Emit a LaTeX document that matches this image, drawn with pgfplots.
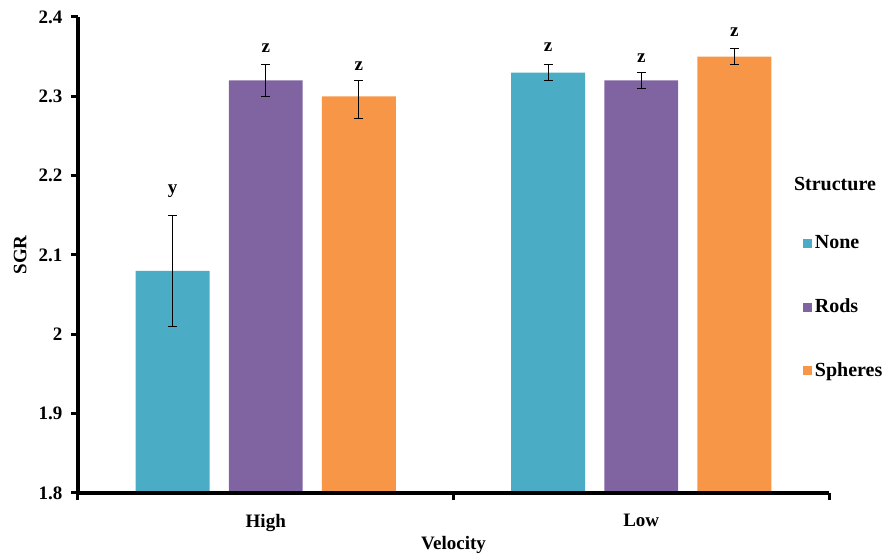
\documentclass[border=0pt]{standalone}
\usepackage{fontspec}
\setmainfont{Liberation Serif}
\usepackage{pgfplots}
\pgfplotsset{compat=1.18}
\definecolor{cNone}{HTML}{4BACC6}
\definecolor{cRods}{HTML}{8064A2}
\definecolor{cSph}{HTML}{F79646}
\begin{document}
\fontsize{19}{22}\selectfont\bfseries
\begin{tikzpicture}
\begin{axis}[
  scale only axis, width=751pt, height=476pt,
  xmin=0, xmax=2, ymin=1.8, ymax=2.4,
  ytick={1.8,1.9,2.0,2.1,2.2,2.3,2.4},
  yticklabels={1.8,1.9,2,2.1,2.2,2.3,2.4},
  minor ytick={1.8,1.9,2.0,2.1,2.2,2.3,2.4},
  xtick={0.5,1.5}, xticklabels={High,Low},
  minor xtick={0,1,2},
  axis on top,
  axis x line*=bottom, axis y line*=left,
  x axis line style={-, line width=4pt, black},
  y axis line style={-, line width=4pt, black},
  tick align=outside,
  major tick length=7pt, minor tick length=7pt,
  every tick/.append style={line width=3pt, black},
  major x tick style={draw=none},
  major y tick style={draw=none},
  minor x tick style={line width=3pt, black},
  minor y tick style={line width=3pt, black},
  /pgf/number format/assume math mode=true,
  ticklabel style={font=\fontsize{19}{22}\selectfont\bfseries},
  yticklabel style={xshift=-2pt},
  xticklabel style={yshift=-8pt},
  ylabel={SGR}, xlabel={Velocity},
  ylabel style={at={(axis description cs:-0.077,0.5)}, anchor=center},
  xlabel style={at={(axis description cs:0.5,0)}, yshift=-52pt, anchor=center},
  ybar, bar width=0.197,
  legend image code/.code={\fill[#1,draw=none] (0pt,-4.5pt) rectangle (9pt,4.5pt);},
  legend style={at={(axis description cs:0.965,0.545)}, anchor=north west, draw=none, fill=none,
    row sep=43pt, inner sep=0pt, font=\fontsize{20}{23}\selectfont\bfseries,
    nodes={inner sep=2pt, inner xsep=3pt}},
  legend cell align=left,
  error bars/y dir=both, error bars/y explicit,
  error bars/error bar style={line width=1pt, black},
  error bars/error mark options={rotate=90, mark size=4.5pt, line width=1pt, black},
]
\addplot[fill=cNone, draw=none, bar shift=-0.248] coordinates {
  (0.5,2.08) +- (0,0.07)
  (1.5,2.33) +- (0,0.01)
};
\addplot[fill=cRods, draw=none, bar shift=0] coordinates {
  (0.5,2.32) +- (0,0.02)
  (1.5,2.32) +- (0,0.01)
};
\addplot[fill=cSph, draw=none, bar shift=0.248] coordinates {
  (0.5,2.30) += (0,0.02) -= (0,0.028)
  (1.5,2.35) +- (0,0.01)
};
\legend{None,Rods,Spheres}
\node[anchor=base] at (axis cs:0.252,2.177) {y};
\node[anchor=base] at (axis cs:0.5,2.355) {z};
\node[anchor=base] at (axis cs:0.748,2.332) {z};
\node[anchor=base] at (axis cs:1.252,2.356) {z};
\node[anchor=base] at (axis cs:1.5,2.343) {z};
\node[anchor=base] at (axis cs:1.748,2.375) {z};
\end{axis}
\node[anchor=base, font=\fontsize{20}{23}\selectfont\bfseries] at ([xshift=6pt,yshift=-174pt]current axis.north east) {Structure};
\path ([xshift=-78pt,yshift=-62pt]current axis.south west) rectangle ([xshift=65pt,yshift=17pt]current axis.north east);
\end{tikzpicture}
\end{document}
